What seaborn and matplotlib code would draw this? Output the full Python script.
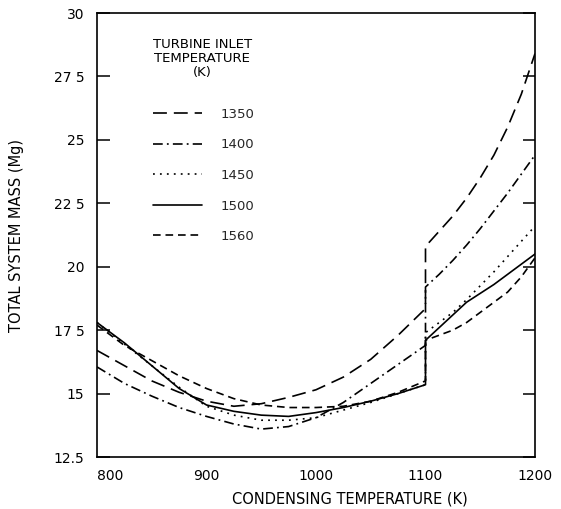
import matplotlib
matplotlib.use("Agg")
import matplotlib.pyplot as plt
import seaborn as sns
import pandas as pd

# ---- data ----
condensing_temp = [800, 825, 850, 875, 900, 925, 950, 975, 1000, 1025, 1050, 1075, 1100,
                   1100, 1112.5, 1125, 1137.5, 1150, 1162.5, 1175, 1187.5, 1200]
mass_1350 = [16.7, 16.1, 15.5, 15.05, 14.7, 14.5, 14.6, 14.85, 15.15, 15.65, 16.35, 17.3, 18.35,
             20.8, 21.4, 22.0, 22.7, 23.5, 24.4, 25.5, 26.8, 28.4]
mass_1400 = [16.05, 15.4, 14.9, 14.45, 14.1, 13.8, 13.6, 13.7, 14.05, 14.65, 15.4, 16.15, 16.9,
             19.2, 19.7, 20.25, 20.85, 21.5, 22.2, 22.9, 23.65, 24.4]
mass_1450 = [17.8, 16.95, 16.1, 15.25, 14.5, 14.15, 13.95, 13.95, 14.05, 14.35, 14.65, 15.0, 15.35,
             17.4, 17.8, 18.2, 18.7, 19.25, 19.8, 20.4, 21.0, 21.6]
mass_1500 = [17.8, 17.0, 16.1, 15.2, 14.55, 14.3, 14.15, 14.1, 14.25, 14.45, 14.7, 15.0, 15.35,
             17.1, 17.6, 18.1, 18.6, 18.95, 19.3, 19.7, 20.1, 20.5]
mass_1560 = [17.7, 16.9, 16.3, 15.7, 15.2, 14.8, 14.55, 14.45, 14.45, 14.5, 14.7, 15.05, 15.5,
             17.1, 17.3, 17.5, 17.8, 18.2, 18.6, 19.0, 19.6, 20.35]
series_labels = ["1350", "1400", "1450", "1500", "1560"]
legend_title = "TURBINE INLET\nTEMPERATURE\n(K)"
x_ticks = [800, 900, 1000, 1100, 1200]
x_tick_labels = ["800", "900", "1000", "1100", "1200"]
y_ticks = [12.5, 15, 17.5, 20, 22.5, 25, 27.5, 30]
y_tick_labels = ["12.5", "15", "17 5", "20", "22 5", "25", "27 5", "30"]

sns.set_theme(style="white")
plt.rcParams["font.family"] = ["DejaVu Sans"]
plt.rcParams["lines.scale_dashes"] = False

series = [mass_1350, mass_1400, mass_1450, mass_1500, mass_1560]
styles = [(0, (10, 5)), (0, (7, 3, 1.3, 3)), (0, (1.3, 3.7)), "-", (0, (5.5, 3.5))]

fig = plt.figure(figsize=(5.61, 5.09), dpi=100)
ax = fig.add_axes([97 / 561, 52 / 509, 438 / 561, 444 / 509])

for lab, vals, ls in zip(series_labels, series, styles):
    df = pd.DataFrame({"x": condensing_temp, "y": vals})
    sns.lineplot(data=df, x="x", y="y", ax=ax, color="black", linestyle=ls,
                 linewidth=1.2, estimator=None, sort=False, label=lab)

ax.set_xlim(800, 1200)
ax.set_ylim(12.5, 30)
ax.set_xticks(x_ticks)
ax.set_xticklabels(x_tick_labels)
ax.set_yticks(y_ticks)
ax.set_yticklabels(y_tick_labels)
ax.get_xticklabels()[0].set_horizontalalignment("left")

for s in ax.spines.values():
    s.set_visible(True)
    s.set_color("black")
    s.set_linewidth(1.2)

ax.tick_params(axis="y", direction="in", length=9, width=1.1, left=True, right=True,
               labelsize=10, pad=9, colors="black")
ax.tick_params(axis="x", direction="in", length=0, labelsize=10, pad=8.8, colors="black")

ax.set_xlabel("CONDENSING TEMPERATURE (K)", fontsize=10.5, color="black")
ax.xaxis.set_label_coords(0.578, -0.0766)
ax.set_ylabel("TOTAL SYSTEM MASS (Mg)", fontsize=10.5, color="black")
ax.yaxis.set_label_coords(-0.1667, 0.5)

ax.text(0.24, 0.944, legend_title, transform=ax.transAxes, ha="center", va="top",
        multialignment="center", fontsize=9.5, linespacing=1.1, color="black")

leg = ax.legend(loc="upper left", bbox_to_anchor=(0.101, 0.813), frameon=False,
                fontsize=9.5, handlelength=3.7, handletextpad=1.4, labelspacing=1.33)
for line in leg.get_lines():
    line.set_linewidth(1.2)

fig.savefig("out.png", dpi=100, facecolor="white")
